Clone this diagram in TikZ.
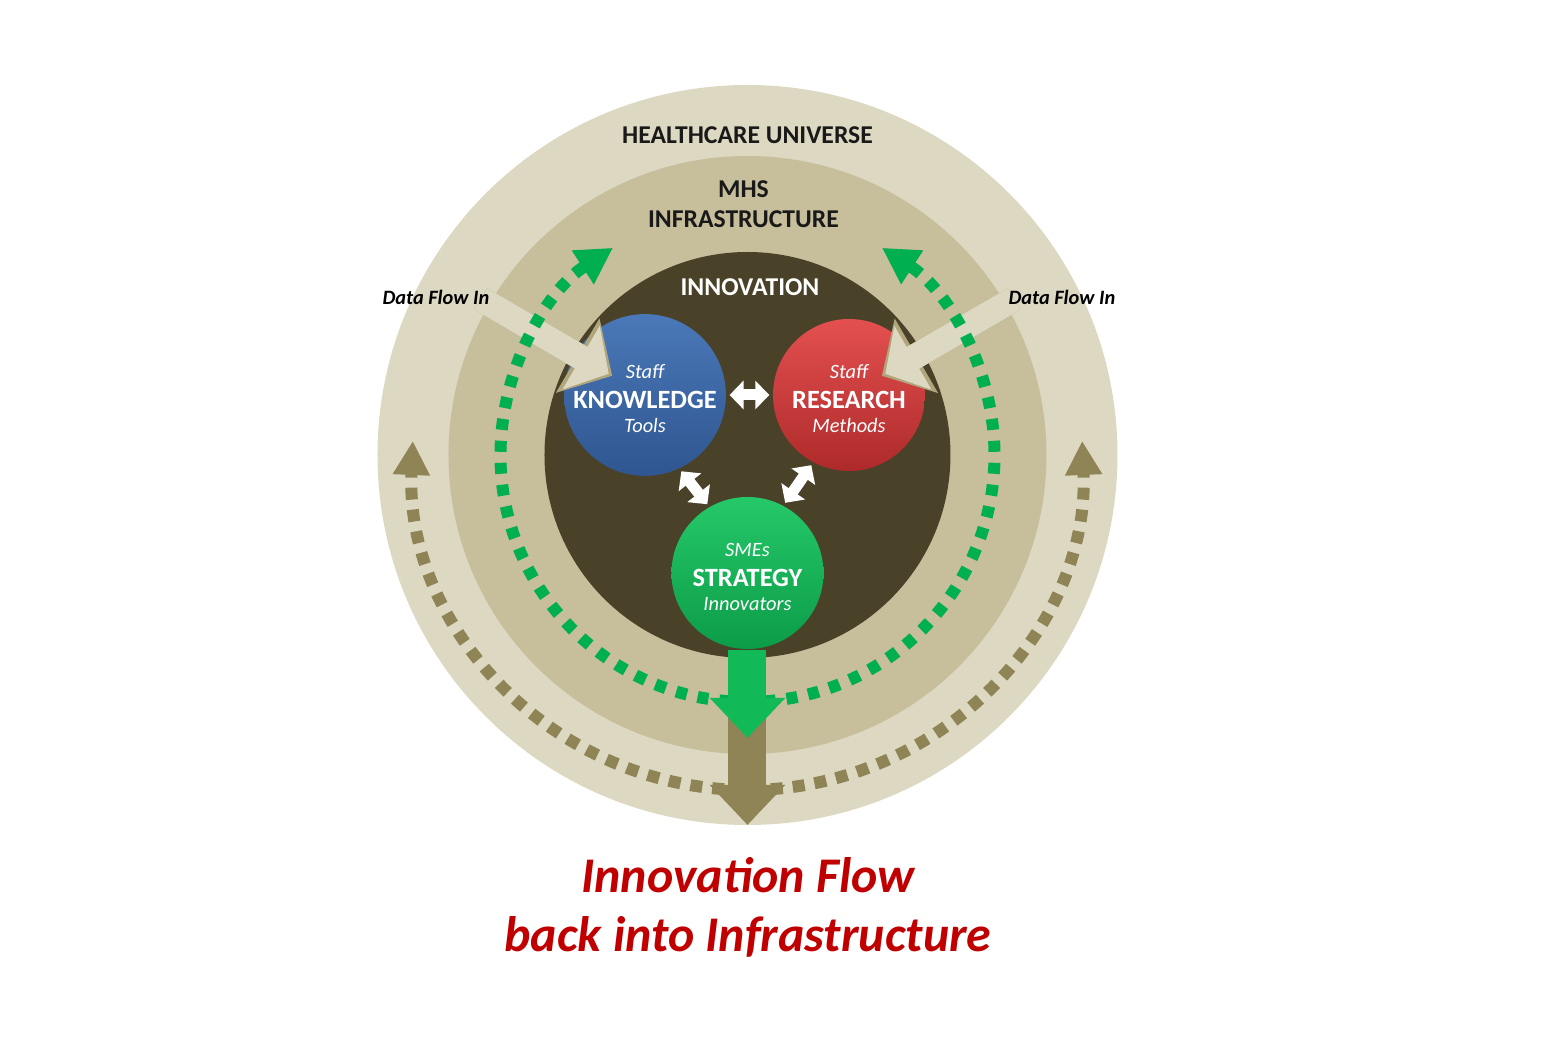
\documentclass[tikz,border=0pt]{standalone}
\usepackage{fontspec}
\setmainfont{Carlito}
\usetikzlibrary{arrows.meta,positioning}
\definecolor{universe}{HTML}{DDD8C2}
\definecolor{infra}{HTML}{C7BE9B}
\definecolor{innov}{HTML}{4A4129}
\definecolor{flowgreen}{HTML}{00B050}
\definecolor{flowolive}{HTML}{8F8455}
\definecolor{rimcol}{HTML}{B0A57B}
\definecolor{titlered}{HTML}{C00000}
\definecolor{knowtop}{HTML}{4A78B8}
\definecolor{knowmid}{HTML}{3F69A6}
\definecolor{knowbot}{HTML}{2F5690}
\definecolor{restop}{HTML}{E45050}
\definecolor{resmid}{HTML}{D33B3B}
\definecolor{resbot}{HTML}{AE2A2A}
\definecolor{strattop}{HTML}{25C869}
\definecolor{stratmid}{HTML}{12B957}
\definecolor{stratbot}{HTML}{0C9C48}
\newcommand\hubsub[1]{{\fontsize{5.8}{7.8}\selectfont\mdseries\itshape #1}}

\begin{document}
\begin{tikzpicture}[
hub/.style={circle,minimum size=1.52cm,inner sep=0pt,align=center,text=white,
  font=\fontsize{7.5}{7.8}\selectfont\bfseries},
ring label/.style={font=\fontsize{7.3}{8.6}\selectfont\bfseries,align=center,text=black!90},
greenflow/.style={flowgreen,line width=0.12cm,dash pattern=on 0.11cm off 0.11cm,
  -{Triangle[width=0.38cm,length=0.36cm]}},
oliveflow/.style={flowolive,line width=0.12cm,dash pattern=on 0.12cm off 0.10cm,
  -{Triangle[width=0.35cm,length=0.34cm]}},
data rim/.style={rimcol,line width=0.25cm,shorten >=0.38cm,
  -{Triangle[width=0.84cm,length=0.40cm]}},
dataflow/.style={universe,line width=0.25cm,shorten >=0.42cm,
  -{Triangle[width=0.72cm,length=0.32cm]}},
twoway/.style={white,line width=0.11cm,shorten <=0.03cm,shorten >=0.03cm,
  {Triangle[width=0.28cm,length=0.14cm]}-{Triangle[width=0.28cm,length=0.14cm]}},
bigflow/.style={line width=0.38cm,-{Triangle[width=0.73cm,length=0.40cm]}}
]
\useasboundingbox (-7.475,-5.87) rectangle (8.155,4.55);

% rings
\fill[universe] (0,0) circle (3.70);
\fill[infra] (0,0) circle (2.99);
\fill[innov] (0,0) circle (2.03);

% the three hubs
\node[hub,top color=knowtop,middle color=knowmid,bottom color=knowbot] (know) at (-1.025,0.60)
  {\hubsub{\rule{0pt}{6pt}Staff}\\[0.85pt]KNOWLEDGE\\[-0.85pt]\hubsub{Tools}};
\node[hub,top color=restop,middle color=resmid,bottom color=resbot] (res) at (1.015,0.60)
  {\hubsub{\rule{0pt}{6pt}Staff}\\[0.85pt]RESEARCH\\[-0.85pt]\hubsub{Methods}};
\node[hub,top color=strattop,middle color=stratmid,bottom color=stratbot] (strat) at (0,-1.18)
  {\hubsub{\rule{0pt}{6pt}SMEs}\\[0.85pt]STRATEGY\\[-0.85pt]\hubsub{Innovators}};

% data flowing in
\coordinate (dfinL) at (-2.665,1.56);
\coordinate (dfinR) at (2.665,1.56);
\draw[data rim] (dfinL) -- (know.center);
\draw[dataflow] (dfinL) -- (know.center);
\draw[data rim] (dfinR) -- (res.center);
\draw[dataflow] (dfinR) -- (res.center);

% flow rings
\draw[greenflow] (266:2.47) arc[start angle=266,end angle=123,radius=2.47];
\draw[greenflow] (274:2.47) arc[start angle=274,end angle=417,radius=2.47];
\draw[oliveflow] (266:3.35) arc[start angle=266,end angle=177.6,radius=3.35];
\draw[oliveflow] (274:3.35) arc[start angle=274,end angle=362.4,radius=3.35];

% innovation flow out
\coordinate (otop) at (0,-2.45);
\coordinate (otip) at (0,-3.70);
\coordinate (gtip) at (0,-2.83);
\draw[bigflow,flowolive] (otop) -- (otip);
\draw[bigflow,stratmid] (strat.south) -- (gtip);

% exchange between hubs
\draw[twoway] (know) -- (res);
\draw[twoway] (know.295) -- (strat.120);
\draw[twoway] (res.242) -- (strat.62);

% labels
\node[ring label] (univ) at (0,3.20) {HEALTHCARE UNIVERSE};
\node[ring label] (mhs) at (-0.04,2.51) {MHS\\INFRASTRUCTURE};
\node[ring label,text=white] (innovation) at (0.025,1.68) {INNOVATION};
\node[font=\fontsize{5.8}{7}\selectfont\bfseries\itshape] (dfL) at (-3.115,1.58) {Data Flow In};
\node[font=\fontsize{5.8}{7}\selectfont\bfseries\itshape] (dfR) at (3.145,1.58) {Data Flow In};
\node[font=\fontsize{14.2}{16.8}\selectfont\bfseries\itshape,text=titlered,align=center]
  (title) at (0.005,-4.52) {Innovation Flow\\back into Infrastructure};
\end{tikzpicture}
\end{document}
